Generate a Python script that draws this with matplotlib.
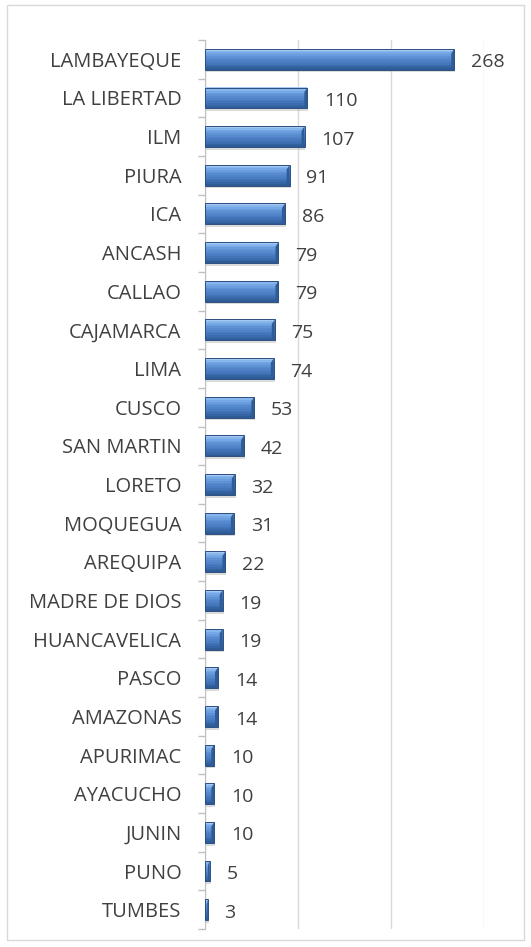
import matplotlib
matplotlib.use('Agg')
import matplotlib.pyplot as plt
import numpy as np
from matplotlib.patches import Rectangle, Polygon
from matplotlib.colors import to_rgb

# data, top to bottom as in the chart
regions = ['LAMBAYEQUE', 'LA LIBERTAD', 'ILM', 'PIURA', 'ICA', 'ANCASH', 'CALLAO',
           'CAJAMARCA', 'LIMA', 'CUSCO', 'SAN MARTIN', 'LORETO', 'MOQUEGUA',
           'AREQUIPA', 'MADRE DE DIOS', 'HUANCAVELICA', 'PASCO', 'AMAZONAS',
           'APURIMAC', 'AYACUCHO', 'JUNIN', 'PUNO', 'TUMBES']
values = [268, 110, 107, 91, 86, 79, 79, 75, 74, 53, 42, 32, 31,
          22, 19, 19, 14, 14, 10, 10, 10, 5, 3]
x_ticks = [0, 100, 200, 300]

plt.rcParams['font.family'] = ['Open Sans', 'DejaVu Sans']
text_color = '#404040'

fig = plt.figure(figsize=(5.31, 9.47), dpi=100)
ax = fig.add_axes([205 / 531, 1 - 929 / 947, (484 - 205) / 531, (929 - 40) / 947])

y = np.arange(len(regions))
h = 0.54
vals = np.array(values)

# soft shadow under the bars
ax.barh(y + 0.07, vals + 1.0, height=h, color='#9A9A9A', alpha=0.35, linewidth=0, zorder=2)

# vertical gradient built from thin strips, light on top, dark at the bottom
stops = [(0.0, '#B5D3F5'), (0.15, '#7DB0EA'), (0.4, '#5B8FD3'),
         (0.75, '#3F72B5'), (1.0, '#2A5690')]
n = 12
edges = np.linspace(0, 1, n + 1)
for i in range(n):
    t = (edges[i] + edges[i + 1]) / 2
    for (t0, c0), (t1, c1) in zip(stops[:-1], stops[1:]):
        if t0 <= t <= t1:
            f = (t - t0) / (t1 - t0)
            col = tuple(np.array(to_rgb(c0)) * (1 - f) + np.array(to_rgb(c1)) * f)
            break
    yc = y - h / 2 + h * t
    ax.barh(yc, vals, height=h / n * 1.05, color=col, linewidth=0, zorder=3)

# outline + bevelled right end, then value labels
for yi, v in zip(y, values):
    ax.add_patch(Rectangle((0, yi - h / 2), v, h, fill=False,
                           edgecolor='#2B4F80', linewidth=0.7, zorder=5))
    w = min(3.2, v * 0.35)
    ax.add_patch(Polygon([(v - w, yi - h / 2 + 0.12), (v, yi - h / 2),
                          (v, yi + h / 2), (v - w, yi + h / 2 - 0.06)],
                         closed=True, facecolor='#2E5C98', linewidth=0, zorder=4))
    ax.text(v + 18, yi + 0.08, str(v), va='center', ha='left', fontsize=14,
            color=text_color)

ax.set_xlim(0, 300)
ax.set_ylim(len(regions) - 0.5, -0.5)
ax.set_xticks(x_ticks)
ax.tick_params(axis='x', length=0, labelbottom=False)
ax.grid(axis='x', color='#D9D9D9', linewidth=1, zorder=0)
ax.set_axisbelow(True)

ax.set_yticks(y)
ax.set_yticklabels(regions, fontsize=14.5, color=text_color)
ax.set_yticks(np.arange(len(regions) + 1) - 0.5, minor=True)
ax.tick_params(axis='y', which='major', length=0, pad=17)
ax.tick_params(axis='y', which='minor', length=5, color='#BFBFBF', width=1)

for s in ['top', 'right', 'bottom']:
    ax.spines[s].set_visible(False)
ax.spines['left'].set_color('#BFBFBF')

# outer chart border
fig.patches.append(Rectangle((7 / 531, 1 - 940 / 947), 517 / 531, 935 / 947,
                             transform=fig.transFigure, fill=False,
                             edgecolor='#D9D9D9', linewidth=1))

fig.savefig('out.png', dpi=100)
